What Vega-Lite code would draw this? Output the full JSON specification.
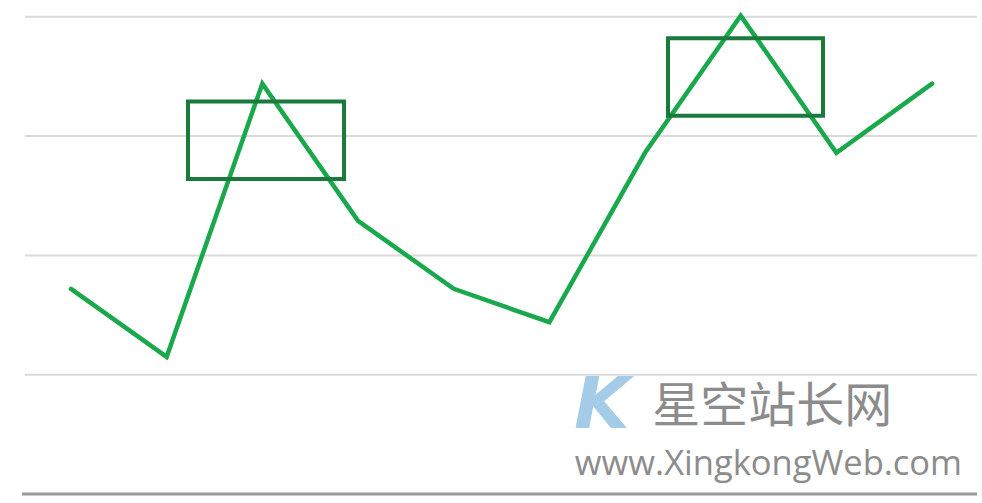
{
  "$schema": "https://vega.github.io/schema/vega-lite/v6.json",
  "width": 982,
  "height": 503,
  "padding": 0,
  "autosize": {"type": "fit", "contains": "padding"},
  "background": "white",
  "config": {"view": {"stroke": null}},
  "datasets": {
    "series": [
      {"i": 0, "v": 17.2},
      {"i": 1, "v": 11.5},
      {"i": 2, "v": 34.4},
      {"i": 3, "v": 22.9},
      {"i": 4, "v": 17.2},
      {"i": 5, "v": 14.4},
      {"i": 6, "v": 28.6},
      {"i": 7, "v": 40.1},
      {"i": 8, "v": 28.6},
      {"i": 9, "v": 34.4}
    ],
    "grid": [{"g": 10}, {"g": 20}, {"g": 30}, {"g": 40}],
    "boxes": [
      {"x1": 1.223, "x2": 2.854, "y1": 26.4, "y2": 32.9},
      {"x1": 6.24, "x2": 7.86, "y1": 31.7, "y2": 38.2}
    ]
  },
  "layer": [
    {
      "data": {"name": "grid"},
      "mark": {"type": "rule", "color": "#dadada", "strokeWidth": 2},
      "encoding": {
        "x": {"datum": -0.481, "type": "quantitative", "scale": {"domain": [-0.742, 9.522], "nice": false, "zero": false}, "axis": null},
        "x2": {"datum": 9.47},
        "y": {"field": "g", "type": "quantitative", "scale": {"domain": [-0.754, 41.41], "nice": false, "zero": false}, "axis": null}
      }
    },
    {
      "data": {"values": [{}]},
      "mark": {"type": "rule", "color": "#9a9a9a", "strokeWidth": 3},
      "encoding": {
        "x": {"datum": -0.512, "type": "quantitative"},
        "x2": {"datum": 9.47},
        "y": {"datum": 0, "type": "quantitative"}
      }
    },
    {
      "data": {"values": [{}]},
      "mark": {"type": "text", "text": "K", "font": "DejaVu Sans", "fontSize": 72, "fontStyle": "italic", "fontWeight": "bold", "color": "#a4cbe8", "baseline": "middle", "align": "center"},
      "encoding": {
        "x": {"datum": 5.55, "type": "quantitative"},
        "y": {"datum": 7.4, "type": "quantitative"}
      }
    },
    {
      "data": {"values": [{}]},
      "mark": {"type": "text", "text": "星空站长网", "font": "Noto Sans CJK SC", "fontSize": 48, "color": "#8c8c8c", "baseline": "middle", "align": "center"},
      "encoding": {
        "x": {"datum": 7.33, "type": "quantitative"},
        "y": {"datum": 7.2, "type": "quantitative"}
      }
    },
    {
      "data": {"values": [{}]},
      "mark": {"type": "text", "text": "www.XingkongWeb.com", "font": "Open Sans", "fontSize": 34.5, "color": "#8c8c8c", "baseline": "alphabetic", "align": "center"},
      "encoding": {
        "x": {"datum": 7.29, "type": "quantitative"},
        "y": {"datum": 1.6, "type": "quantitative"}
      }
    },
    {
      "data": {"name": "series"},
      "mark": {"type": "line", "color": "#19a84b", "strokeWidth": 4.5, "strokeCap": "round", "strokeJoin": "miter"},
      "encoding": {
        "x": {"field": "i", "type": "quantitative"},
        "y": {"field": "v", "type": "quantitative"}
      }
    },
    {
      "data": {"name": "boxes"},
      "mark": {"type": "rect", "filled": false, "stroke": "#1a7a3c", "strokeWidth": 4},
      "encoding": {
        "x": {"field": "x1", "type": "quantitative"},
        "x2": {"field": "x2"},
        "y": {"field": "y1", "type": "quantitative"},
        "y2": {"field": "y2"}
      }
    }
  ]
}
